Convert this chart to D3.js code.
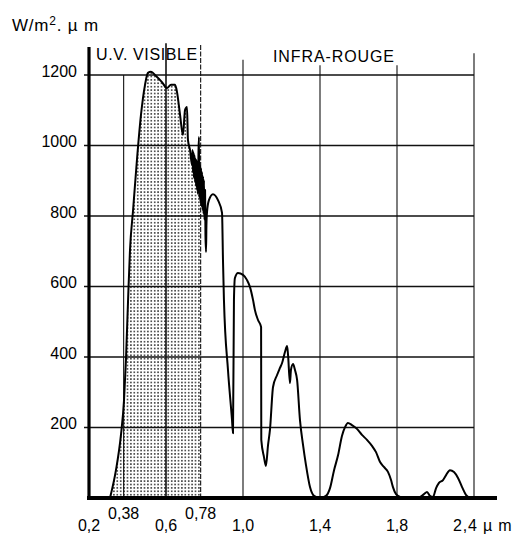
<!DOCTYPE html>
<html>
<head>
<meta charset="utf-8">
<script src="https://cdn.jsdelivr.net/npm/d3@7"></script>
<style>
  html, body { margin: 0; padding: 0; background: #fff; }
  svg { display: block; font-family: "Liberation Sans", Arial, Helvetica, sans-serif; }
</style>
</head>
<body>
<svg id="chart" width="520" height="535"></svg>
<script>
// ---- data ----
const wavelength = [0.309,0.340,0.366,0.382,0.392,0.403,0.413,0.429,0.449,0.470,0.491,0.506,0.522,0.548,0.579,0.605,0.626,0.647,0.657,0.673,0.688,0.699,0.709,0.714,0.725,
  0.735,0.738,0.740,0.743,0.745,0.748,0.751,0.753,0.756,0.758,0.761,0.764,0.766,0.769,0.771,0.774,0.777,0.779,0.782,0.784,0.787,0.790,0.792,0.795,0.797,0.800,0.803,0.805,0.808,0.810,0.813,
  0.823,0.844,0.870,0.891,0.896,0.901,0.922,0.943,0.948,0.953,0.958,0.974,1.000,1.021,1.036,1.052,1.062,1.078,1.094,1.095,1.109,1.119,1.130,1.140,1.156,1.177,1.192,1.203,1.218,1.229,1.234,1.244,1.249,1.260,1.270,1.281,1.296,1.312,1.327,1.348,1.369,1.400,1.431,1.452,1.473,1.494,1.514,1.530,1.545,1.566,1.592,1.618,1.644,1.670,1.691,1.712,1.732,1.753,1.769,1.779,1.795,1.816,1.842,1.919,1.940,1.956,1.971,1.987,2.003,2.018,2.039,2.055,2.075,2.096,2.117,2.138,2.158,2.179];
const irradiance = [0,79,179,278,392,562,704,817,959,1087,1172,1206,1209,1197,1180,1163,1172,1172,1152,1087,1030,1101,1109,1016,987,
  945,987,924,981,908,973,896,964,885,959,874,953,862,987,1024,851,945,840,936,828,925,817,913,806,902,789,874,746,698,774,811,
  845,862,845,809,675,562,363,221,184,562,624,638,633,618,599,562,533,505,485,165,116,91,150,193,315,349,369,383,414,431,406,326,363,380,363,335,221,150,94,31,6,0,6,28,79,122,176,201,213,207,196,179,165,148,130,102,88,74,51,31,11,3,0,3,11,17,6,3,28,43,51,65,79,74,57,31,9,0];
const xTicks = [0.2, 0.38, 0.6, 0.78, 1.0, 1.4, 1.8, 2.2];
const xTickLabels = ["0,2", "0,38", "0,6", "0,78", "1,0", "1,4", "1,8", "2,4 µ m"];
const yTicks = [200, 400, 600, 800, 1000, 1200];
const yTickLabels = ["200", "400", "600", "800", "1000", "1200"];
const bandLabels = ["U.V. VISIBLE", "INFRA-ROUGE"];
const visibleLimit = 0.78;

// ---- drawing ----
const svg = d3.select("#chart");
const x = d3.scaleLinear().domain([0.2, 2.2]).range([89, 474]);
const y = d3.scaleLinear().domain([0, 1200]).range([498, 75]);
const data = wavelength.map((w, i) => ({ w, v: irradiance[i] }));

// dot pattern
const defs = svg.append("defs");
const pat = defs.append("pattern").attr("id", "dots").attr("patternUnits", "userSpaceOnUse")
  .attr("width", 3.4).attr("height", 3.4);
pat.append("rect").attr("x", 1).attr("y", 1).attr("width", 1.4).attr("height", 1.4).attr("fill", "#000");
defs.append("clipPath").attr("id", "visClip").append("rect")
  .attr("x", x(0.2)).attr("y", 0).attr("width", x(visibleLimit) - x(0.2)).attr("height", y(0));

// shaded area (U.V. + visible)
const area = d3.area().x(d => x(d.w)).y0(y(0)).y1(d => y(d.v)).curve(d3.curveMonotoneX);
svg.append("path").datum(data).attr("d", area).attr("fill", "url(#dots)").attr("clip-path", "url(#visClip)");

// horizontal grid lines
svg.append("g").selectAll("line").data(yTicks).join("line")
  .attr("x1", x(0.2) - 5).attr("x2", x(2.2))
  .attr("y1", d => y(d)).attr("y2", d => y(d))
  .attr("stroke", "#111").attr("stroke-width", 1.4);

// vertical grid lines
const vTop = { 0.38: 1200, 0.6: 1290, 0.78: 1285, 1.0: 1243, 1.4: 1228, 1.8: 1228, 2.2: 1262 };
svg.append("g").selectAll("line").data(xTicks.slice(1)).join("line")
  .attr("x1", d => x(d)).attr("x2", d => x(d))
  .attr("y1", d => y(vTop[d])).attr("y2", y(0))
  .attr("stroke", "#111").attr("stroke-width", d => (d === 0.6 ? 1.6 : 1.1))
  .attr("stroke-dasharray", d => (d === 0.78 ? "5,1.5" : null));

// curve
const line = d3.line().x(d => x(d.w)).y(d => y(d.v)).curve(d3.curveMonotoneX);
svg.append("path").datum(data).attr("d", line).attr("fill", "none")
  .attr("stroke", "#000").attr("stroke-width", 2).attr("stroke-linejoin", "round");

// axes
svg.append("line").attr("x1", x(0.2)).attr("x2", x(0.2)).attr("y1", 47).attr("y2", y(0) + 2)
  .attr("stroke", "#000").attr("stroke-width", 3.2);
svg.append("line").attr("x1", x(0.2) - 2).attr("x2", 497).attr("y1", y(0)).attr("y2", y(0))
  .attr("stroke", "#000").attr("stroke-width", 4);

// y tick labels
svg.append("g").selectAll("text").data(yTicks).join("text")
  .attr("x", 77).attr("y", d => y(d) + 1.5)
  .attr("text-anchor", "end").attr("font-size", 16).attr("fill", "#000")
  .text((d, i) => yTickLabels[i]);

// x tick labels
svg.append("g").selectAll("text").data(xTicks).join("text")
  .attr("x", (d, i) => (i === xTicks.length - 1 ? x(d) - 21 : x(d)))
  .attr("y", (d, i) => (i === 1 || i === 3 ? 519 : 531))
  .attr("text-anchor", (d, i) => (i === xTicks.length - 1 ? "start" : "middle"))
  .attr("font-size", 16).attr("fill", "#000")
  .attr("letter-spacing", (d, i) => (i === xTicks.length - 1 ? 0.8 : 0))
  .text((d, i) => xTickLabels[i]);

// band labels
svg.append("text").attr("x", 96).attr("y", 60).attr("font-size", 16)
  .attr("letter-spacing", 0.6).text(bandLabels[0]);
svg.append("text").attr("x", 273).attr("y", 62).attr("font-size", 16)
  .attr("letter-spacing", 0.9).text(bandLabels[1]);

// unit label
const unit = svg.append("text").attr("x", 12).attr("y", 31).attr("font-size", 17).attr("letter-spacing", 0.8);
unit.append("tspan").text("W/m");
unit.append("tspan").attr("font-size", 12).attr("dy", -6).text("2");
unit.append("tspan").attr("dy", 6).text(". µ m");
</script>
</body>
</html>
